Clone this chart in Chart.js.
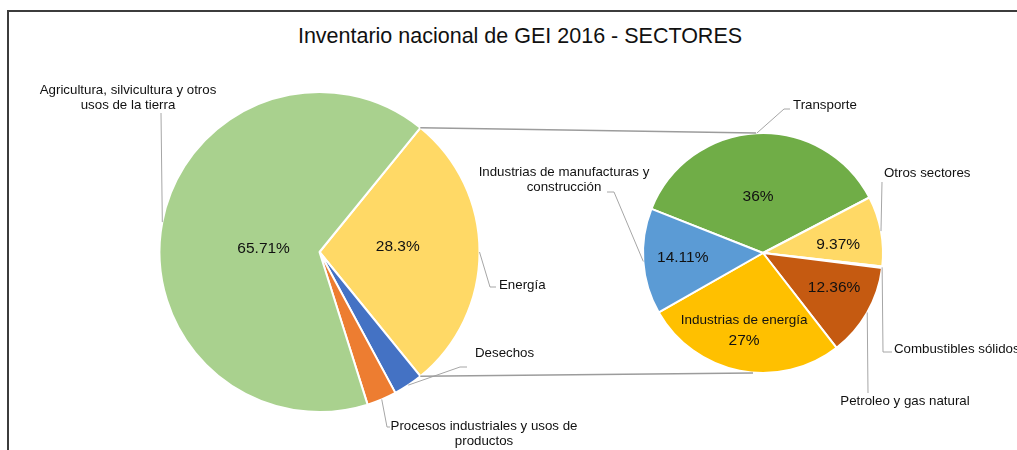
<!DOCTYPE html>
<html>
<head>
<meta charset="utf-8">
<script src="https://cdn.jsdelivr.net/npm/chart.js@4.4.0/dist/chart.umd.min.js"></script>
<style>
  html, body { margin: 0; background: #fff; overflow: hidden; font-family: "Liberation Sans", Arial, sans-serif; }
  #wrap { position: relative; width: 1017px; height: 450px; overflow: hidden; }
  #frame { position: absolute; left: 7px; top: 10px; right: 0; bottom: 0; border-left: 2px solid #3c3c3c; border-top: 2px solid #3c3c3c; }
  #title { position: absolute; left: 0; width: 1040px; top: 24px; text-align: center; font-size: 21.5px; color: #111; }
  canvas { position: absolute; left: 0; top: 0; }
</style>
</head>
<body>
<div id="wrap">
  <div id="frame"></div>
  <div id="title">Inventario nacional de GEI 2016 - SECTORES</div>
  <canvas id="mainPie" width="1017" height="450"></canvas>
  <canvas id="subPie" width="1017" height="450"></canvas>
</div>
<script>
// DATA
const sectors = [
  "Energía",
  "Desechos",
  ["Procesos industriales y usos de", "productos"],
  ["Agricultura, silvicultura y otros", "usos de la tierra"],
];
const sectorValues = [28.3, 2.99, 3.0, 65.71];

const energyCats = [
  "Transporte",
  "Otros sectores",
  "Combustibles sólidos",
  "Petroleo y gas natural",
  "Industrias de energía",
  ["Industrias de manufacturas y", "construcción"],
];
const energyValues = [36, 9.37, 0.2, 12.36, 27, 14.11];

// LAYOUT (text placement only)
const FONT = "'Liberation Sans', Arial, sans-serif";
const mainOutside = [
  { i: 0, x: 499, y: 285, align: "left", leader: [[490, 287], [496, 287]] },
  { i: 1, x: 475, y: 353, align: "left", leader: [[460, 367], [467, 367]] },
  { i: 2, x: 484, y: 426, align: "center", leader: [[387, 427], [390, 427]] },
  { i: 3, x: 128, y: 90, align: "center", leader: [[161, 113]] },
];
const mainInside = [
  { i: 0, frac: 0.49, rot: -3.7 },
  { i: 3, frac: 0.35, rot: -7 },
];
const subOutside = [
  { i: 0, x: 793, y: 105, align: "left", leader: [[784, 109], [790, 109]] },
  { i: 1, x: 884, y: 173, align: "left", leader: [[882, 182]] },
  { i: 2, x: 894, y: 349, align: "left", leader: [[883, 352], [892, 352]] },
  { i: 3, x: 905, y: 401, align: "center", leader: [[868, 393]] },
  { i: 5, x: 564, y: 172, align: "center", leader: [[614, 192], [607, 192]] },
];
const subInside = [
  { i: 0, frac: 0.47, rot: -2 },
  { i: 1, frac: 0.63, rot: 4.4 },
  { i: 3, frac: 0.66, rot: -3.5 },
  { i: 4, frac: 0.66, rot: 2.6, withName: true },
  { i: 5, frac: 0.67, rot: 0.4 },
];

const toRad = (d) => (d * Math.PI) / 180;

function drawLabels(chart, outside, inside, values) {
  const ctx = chart.ctx;
  const arcs = chart.getDatasetMeta(0).data;
  const labels = chart.data.labels;
  ctx.save();
  ctx.textBaseline = "middle";

  // leader lines + outside labels
  outside.forEach((o) => {
    const a = arcs[o.i];
    const mid = (a.startAngle + a.endAngle) / 2;
    ctx.strokeStyle = "#a6a6a6";
    ctx.lineWidth = 1;
    ctx.beginPath();
    ctx.moveTo(a.x + Math.cos(mid) * a.outerRadius, a.y + Math.sin(mid) * a.outerRadius);
    o.leader.forEach((p) => ctx.lineTo(p[0], p[1]));
    ctx.stroke();

    const lines = Array.isArray(labels[o.i]) ? labels[o.i] : [labels[o.i]];
    ctx.fillStyle = "#111";
    ctx.font = "13.3px " + FONT;
    ctx.textAlign = o.align;
    lines.forEach((t, k) => ctx.fillText(t, o.x, o.y + k * 15.5));
  });

  // inside percent labels
  inside.forEach((o) => {
    const a = arcs[o.i];
    const mid = (a.startAngle + a.endAngle) / 2 + toRad(o.rot || 0);
    const cx = a.x + Math.cos(mid) * a.outerRadius * o.frac;
    const cy = a.y + Math.sin(mid) * a.outerRadius * o.frac;
    ctx.fillStyle = "#111";
    ctx.textAlign = "center";
    const pct = values[o.i] + "%";
    if (o.withName) {
      ctx.font = "13.5px " + FONT;
      ctx.fillText(labels[o.i], cx, cy - 10);
      ctx.font = "15.5px " + FONT;
      ctx.fillText(pct, cx, cy + 11);
    } else {
      ctx.font = "15.5px " + FONT;
      ctx.fillText(pct, cx, cy);
    }
  });
  ctx.restore();
}

const baseOptions = {
  responsive: false,
  animation: false,
  events: [],
  plugins: { legend: { display: false }, tooltip: { enabled: false } },
};

const mainChart = new Chart(document.getElementById("mainPie"), {
  type: "pie",
  data: {
    labels: sectors,
    datasets: [{
      data: sectorValues,
      backgroundColor: ["#ffd966", "#4472c4", "#ed7d31", "#a9d18e"],
      borderColor: "#ffffff",
      borderWidth: 2,
    }],
  },
  options: {
    ...baseOptions,
    rotation: 90 - (sectorValues[0] / sectorValues.reduce((s, v) => s + v, 0)) * 180,
    layout: { padding: { left: 158, right: 536, top: 91, bottom: 37 } },
  },
  plugins: [{
    id: "mainLabels",
    afterDraw: (chart) => drawLabels(chart, mainOutside, mainInside, sectorValues),
  }],
});

new Chart(document.getElementById("subPie"), {
  type: "pie",
  data: {
    labels: energyCats,
    datasets: [{
      data: energyValues,
      backgroundColor: ["#70ad47", "#ffd966", "#a5a5a5", "#c55a11", "#ffc000", "#5b9bd5"],
      borderColor: "#ffffff",
      borderWidth: 2,
    }],
  },
  options: {
    ...baseOptions,
    rotation: 291.6,
    layout: { padding: { left: 642, right: 133, top: 132, bottom: 76 } },
  },
  plugins: [{
    id: "subLabels",
    afterDraw: (chart) => {
      const ctx = chart.ctx;
      // connector lines from the Energía slice to the breakdown pie
      const e = mainChart.getDatasetMeta(0).data[0];
      const s = chart.getDatasetMeta(0).data[0];
      ctx.save();
      ctx.strokeStyle = "#9c9c9c";
      ctx.lineWidth = 1.3;
      ctx.beginPath();
      ctx.moveTo(e.x + Math.cos(e.startAngle) * e.outerRadius, e.y + Math.sin(e.startAngle) * e.outerRadius);
      ctx.lineTo(s.x - 7, s.y - s.outerRadius);
      ctx.moveTo(e.x + Math.cos(e.endAngle) * e.outerRadius, e.y + Math.sin(e.endAngle) * e.outerRadius);
      ctx.lineTo(s.x - 10, s.y + s.outerRadius);
      ctx.stroke();
      ctx.restore();
      drawLabels(chart, subOutside, subInside, energyValues);
    },
  }],
});
</script>
</body>
</html>
